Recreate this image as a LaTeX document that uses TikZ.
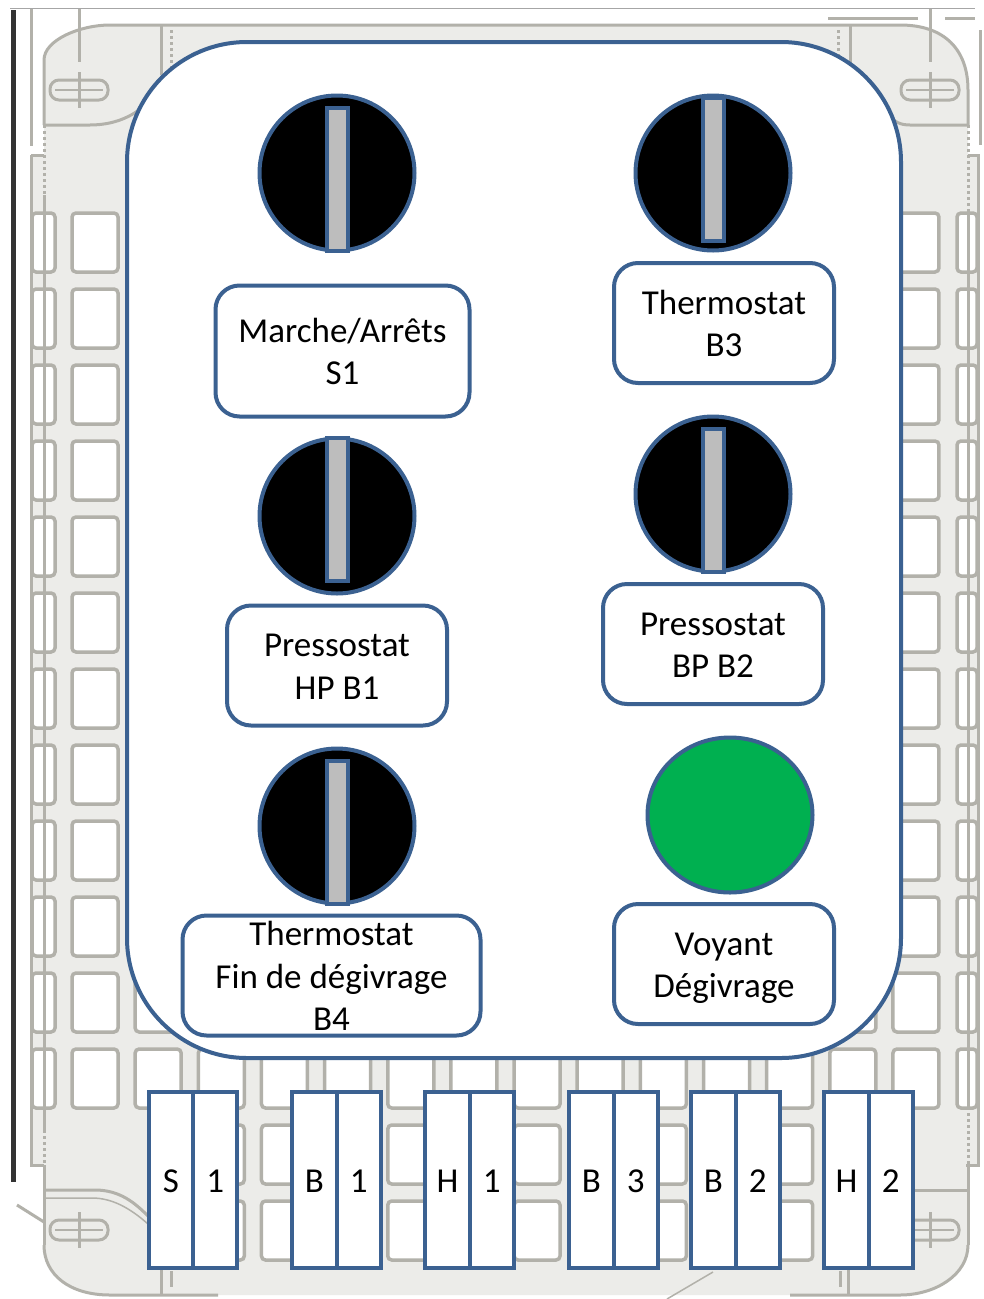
\documentclass[tikz,border=0pt]{standalone}
\usepackage{fontspec}
\setmainfont{Carlito}
\usetikzlibrary{positioning, shapes.geometric}
\definecolor{Edge}  {HTML}{3B6191}
\definecolor{Slot}  {HTML}{BDBDBD}
\definecolor{Lamp}  {HTML}{00B050}
\definecolor{Wall}  {HTML}{ECECE9}
\definecolor{Rib}   {HTML}{B2B1AA}
\newcommand{\tagstrut}{\rule[-8.75pt]{0pt}{42.5pt}}
\tikzset{
  every node/.style={outer sep=0pt, inner sep=0pt, text=black, font=\fontsize{35}{42.5}\selectfont},
  knob/.style={circle, draw=Edge, line width=4pt, fill=black, minimum size=155pt},
  slot/.style={rectangle, draw=Edge, line width=4pt, fill=Slot, minimum width=21pt, minimum height=143pt},
  lamp/.style={ellipse, draw=Edge, line width=4pt, fill=Lamp, minimum width=165pt, minimum height=155pt},
  tag/.style={rectangle, rounded corners=24pt, draw=Edge, line width=4pt, fill=white, align=center, minimum width=220pt, minimum height=120pt},
  termcell/.style={rectangle, draw=Edge, line width=4pt, fill=white, minimum width=44.3pt, minimum height=176pt, text height=24pt, text depth=0pt},
  rib/.style={draw=Rib, line width=3pt},
  thinrib/.style={draw=Rib, line width=1.5pt},
  cell/.style={draw=Rib, line width=3.5pt, fill=white, rounded corners=4pt}
}
\begin{document}
\begin{tikzpicture}[x=1pt,y=-1pt]
  \useasboundingbox (0,0) rectangle (983,1299);
  \fill[white] (0,0) rectangle (983,1299);
  \fill[Wall] (44,60) .. controls (44,40) and (80,25) .. (110,25) -- (900,25) .. controls (945,25) and (968,50) .. (968,90) -- (968,1245) .. controls (968,1275) and (935,1295) .. (900,1295) -- (110,1295) .. controls (70,1295) and (44,1275) .. (44,1245) -- cycle;
  \fill[Wall] (31,155) rectangle (44,1165);
  \fill[Wall] (968,155) rectangle (978,1165);
  \foreach \r in {0,...,11} {
    \foreach \c in {0,...,13} {
      \draw[cell] ({72+63.15*\c},{213+76*\r}) rectangle ++(46,59);
    }
    \draw[cell] (32,{213+76*\r}) rectangle ++(23,59);
    \draw[cell] (957,{213+76*\r}) rectangle ++(20,59);
  }
  \foreach \r in {12,13} {
    \foreach \c in {2,...,11} {
      \draw[cell] ({72+63.15*\c},{213+76*\r}) rectangle ++(46,59);
    }
  }
  \draw[rib] (44,125) -- (44,60) .. controls (44,40) and (80,25) .. (110,25) -- (900,25) .. controls (945,25) and (968,50) .. (968,90) -- (968,125);
  \draw[rib] (44,125) -- (90,125) .. controls (120,125) and (140,112) .. (152,98);
  \draw[rib] (968,125) -- (910,125) .. controls (900,125) and (895,122) .. (888,115);
  \draw[rib] (44,1245) .. controls (44,1275) and (70,1295) .. (110,1295) -- (218,1295);
  \draw[rib] (968,1245) .. controls (968,1275) and (935,1295) .. (900,1295) -- (790,1295);
  \draw[rib, dashed] (44,125) -- (44,195);
  \draw[rib] (44,195) -- (44,1130);
  \draw[rib, dashed] (44,1130) -- (44,1165);
  \draw[rib] (44,1165) -- (44,1245);
  \draw[rib, dashed] (968,125) -- (968,213);
  \draw[rib] (968,213) -- (968,1107);
  \draw[rib, dashed] (968,1107) -- (968,1165);
  \draw[rib] (968,1165) -- (968,1245);
  \draw[rib] (31,8) -- (31,146);
  \draw[rib] (31,155) -- (31,1165) -- (44,1165);
  \draw[rib] (31,155) -- (44,155);
  \draw[rib] (980,30) -- (980,145);
  \draw[rib] (968,155) -- (978,155) -- (978,1165) -- (966,1165);
  \draw[rib] (161,25) -- (161,75);
  \draw[rib, dashed] (171,30) -- (171,68);
  \draw[rib] (850,25) -- (850,70);
  \draw[rib, dashed] (838,30) -- (838,60);
  \draw[rib] (161,1270) -- (161,1295);
  \draw[rib] (171,1271) -- (171,1287);
  \draw[rib] (848,1270) -- (848,1295);
  \draw[rib] (840,1271) -- (840,1287);
  \draw[rib] (44,1190) -- (95,1190) .. controls (120,1190) and (135,1203) .. (148,1216);
  \draw[thinrib] (44,1198) -- (92,1198) .. controls (112,1198) and (130,1208) .. (148,1224);
  \draw[rib] (913,1190) -- (967,1190);
  \draw[rib] (828,18) -- (918,18);
  \draw[rib] (945,18) -- (975,18);
  \draw[rib] (17,1205) -- (44,1222);
  \draw[thinrib] (667,1299) -- (713,1272);
  \foreach \ox/\oy in {79/90, 930/90, 79/1230, 930/1230} {
    \draw[rib, rounded corners=9pt] ({\ox-29},{\oy-10}) rectangle ({\ox+29},{\oy+10});
    \draw[thinrib] ({\ox-24},\oy) -- ({\ox+24},\oy);
    \draw[rib] (\ox,{\oy-18}) -- (\ox,{\oy+18});
  }
  \draw[rib] (79,8) -- (79,62);
  \draw[rib] (930,8) -- (930,62);
  \draw[draw=black!35, line width=1pt] (10,8) -- (975,8);
  \draw[draw=black!80, line width=5pt] (13,10) -- (13,1182);
  \fill[white, draw=Edge, line width=4pt, rounded corners=120pt] (127,42) rectangle (901,1058);
  \node[knob] (knobsa) at (337,173) {};
  \node[slot] (slotsa) at (337,179) {};
  \node[tag, minimum width=254pt, minimum height=131pt] (tagsa) at (342.5,351) {\tagstrut Marche/Arrêts\\\tagstrut S1};
  \node[knob] (knobba) at (337,516) {};
  \node[slot] (slotba) at (337.5,509.5) {};
  \node[tag] (tagba) at (337,665.5) {\tagstrut Pressostat\\\tagstrut HP B1};
  \node[knob] (knobbd) at (337,826) {};
  \node[slot] (slotbd) at (337,832) {};
  \node[tag, minimum width=298pt, inner ysep=-6pt] (tagbd) at (331.5,975.5) {\tagstrut Thermostat\\\tagstrut Fin de dégivrage\\\tagstrut B4};
  \node[knob] (knobbc) at (713,173) {};
  \node[slot] (slotbc) at (713,169) {};
  \node[tag] (tagbc) at (724,323) {\tagstrut Thermostat\\\tagstrut B3};
  \node[knob] (knobbb) at (713,494) {};
  \node[slot] (slotbb) at (713,500) {};
  \node[tag] (tagbb) at (713,644) {\tagstrut Pressostat\\\tagstrut BP B2};
  \node[lamp] (lampdg) at (730,815) {};
  \node[tag] (tagdg) at (724,964) {\tagstrut Voyant\\\tagstrut Dégivrage};
  \node[termcell] (sa) at (171,1180) {S};
  \node[termcell, right=0pt of sa] (sb) {1};
  \node[termcell] (ba) at (314.5,1180) {B};
  \node[termcell, right=0pt of ba] (bb) {1};
  \node[termcell] (ha) at (447.5,1180) {H};
  \node[termcell, right=0pt of ha] (hb) {1};
  \node[termcell] (bc) at (591.5,1180) {B};
  \node[termcell, right=0pt of bc] (bd) {3};
  \node[termcell] (be) at (713.5,1180) {B};
  \node[termcell, right=0pt of be] (bf) {2};
  \node[termcell] (hc) at (846.5,1180) {H};
  \node[termcell, right=0pt of hc] (hd) {2};
\end{tikzpicture}
\end{document}
